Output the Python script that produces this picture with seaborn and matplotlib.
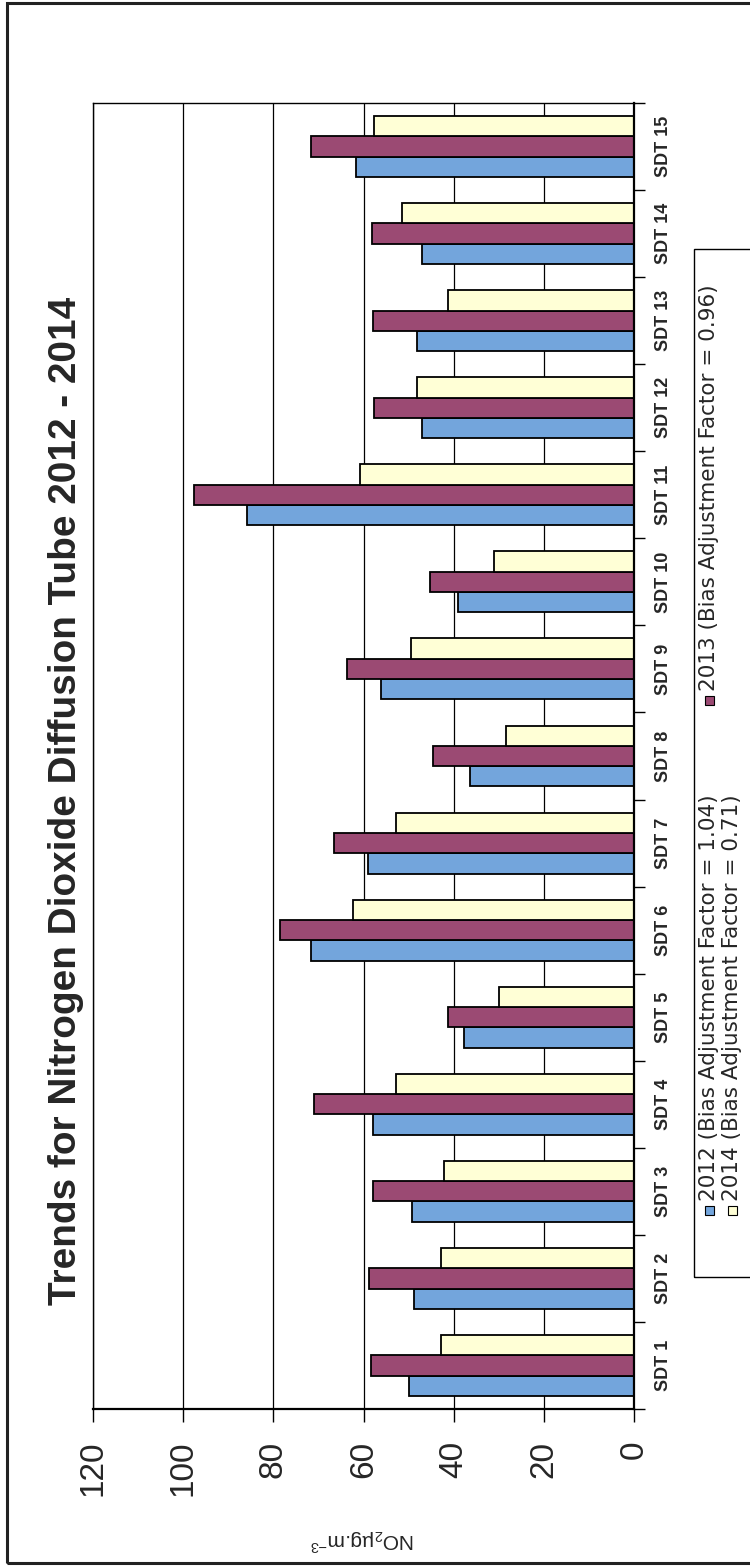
import matplotlib
matplotlib.use("Agg")
import matplotlib.pyplot as plt
from matplotlib.patches import Rectangle
import numpy as np
import pandas as pd
import seaborn as sns

# ---- data -------------------------------------------------------------
sites = [f"SDT {i}" for i in range(1, 16)]
years = ["2012", "2013", "2014"]
bias_factors = ["1.04", "0.96", "0.71"]
no2_2012 = [49.8, 48.9, 49.3, 58.0, 37.8, 71.7, 59.0, 36.4, 56.1, 39.0, 85.8, 47.0, 48.1, 47.1, 61.7]
no2_2013 = [58.3, 58.8, 57.9, 71.0, 41.3, 78.5, 66.5, 44.6, 63.7, 45.3, 97.6, 57.6, 57.9, 58.1, 71.7]
no2_2014 = [42.7, 42.8, 42.1, 52.8, 30.0, 62.3, 52.8, 28.4, 49.5, 31.0, 60.8, 48.1, 41.3, 51.5, 57.7]
value_ticks = [0, 20, 40, 60, 80, 100, 120]
title = "Trends for Nitrogen Dioxide Diffusion Tube 2012 - 2014"
unit_label = r"NO$_2$µg.m$^{-3}$"

bar_colors = ["#73a5dc", "#9b4a73", "#ffffd6"]

sns.set_style("white")
plt.rcParams["font.family"] = ["Liberation Sans", "DejaVu Sans"]
plt.rcParams["mathtext.default"] = "regular"
narrow = ["Liberation Sans Narrow", "Liberation Sans", "DejaVu Sans"]

W, H = 750, 1567
fig = plt.figure(figsize=(W / 100, H / 100), dpi=100)


def fx(px):
    return px / W


def fy(py):
    return 1 - py / H


ax = fig.add_axes([fx(93), fy(1409), fx(634) - fx(93), fy(103) - fy(1409)])

df = pd.DataFrame({
    "site": sites * 3,
    "year": np.repeat(years, len(sites)),
    "no2": no2_2012 + no2_2013 + no2_2014,
})

sns.barplot(data=df, x="no2", y="site", hue="year", order=sites, hue_order=years,
            palette=bar_colors, orient="h", width=0.7, saturation=1,
            edgecolor="black", linewidth=1.3, errorbar=None, legend=False, ax=ax)

# sites run bottom-to-top, values grow leftwards from the right-hand axis
ax.invert_yaxis()
ax.set_ylim(-0.5, 14.5)
ax.set_xlim(120, 0)
ax.set_xlabel("")
ax.set_ylabel("")

ax.set_xticks(value_ticks)
ax.set_xticklabels([str(v) for v in value_ticks], rotation=90, fontsize=24)
ax.xaxis.grid(True, color="black", linewidth=0.9)
ax.yaxis.grid(False)
ax.set_axisbelow(True)
ax.tick_params(axis="x", direction="out", length=9, width=1, pad=14,
               bottom=True, color="black")

ax.yaxis.tick_right()
ax.set_yticks(range(len(sites)))
ax.set_yticklabels(sites, rotation=90, va="center", ha="left", fontsize=13,
                   fontweight="bold", family=narrow)
ax.set_yticks(np.arange(-0.5, len(sites), 1), minor=True)
ax.tick_params(axis="y", which="major", length=0, pad=15, right=True, left=False)
ax.tick_params(axis="y", which="minor", length=8, width=1, direction="out",
               right=True, left=False, color="black")

for side, lw in [("left", 1.0), ("top", 1.0), ("right", 1.6), ("bottom", 1.6)]:
    ax.spines[side].set_visible(True)
    ax.spines[side].set_color("black")
    ax.spines[side].set_linewidth(lw)

# title along the left edge
t = fig.text(fx(66), fy(801), title, rotation=90, ha="center", va="center",
             fontsize=28, fontweight="bold")
renderer = fig.canvas.get_renderer()
span = t.get_window_extent(renderer).height
t.set_fontsize(28 * 1008 / span)

# unit label, upside down under the value axis
fig.text(fx(362), fy(1540), unit_label, rotation=180, ha="center", va="center",
         fontsize=15)

# legend box with rotated entries
fig.add_artist(Rectangle((fx(694), fy(1277)), fx(780) - fx(694), fy(249) - fy(1277),
                         transform=fig.transFigure, fill=False, edgecolor="black",
                         linewidth=1.0))
legend_slots = [(709, 1210), (709, 700), (732, 1210)]
for year, factor, color, (lx, ly) in zip(years, bias_factors, bar_colors, legend_slots):
    fig.add_artist(Rectangle((fx(lx - 4.5), fy(ly + 4.5)), 9 / W, 9 / H,
                             transform=fig.transFigure, facecolor=color,
                             edgecolor="black", linewidth=0.8))
    fig.text(fx(lx), fy(ly - 9), f"{year} (Bias Adjustment Factor = {factor})",
             rotation=90, ha="center", va="bottom", fontsize=15.5,
             family=["DejaVu Sans"])

# page frame
fig.add_artist(Rectangle((fx(7), fy(1563)), fx(790) - fx(7), fy(3) - fy(1563),
                         transform=fig.transFigure, fill=False, edgecolor="#222222",
                         linewidth=2.2))

fig.savefig("out.png", dpi=100)
